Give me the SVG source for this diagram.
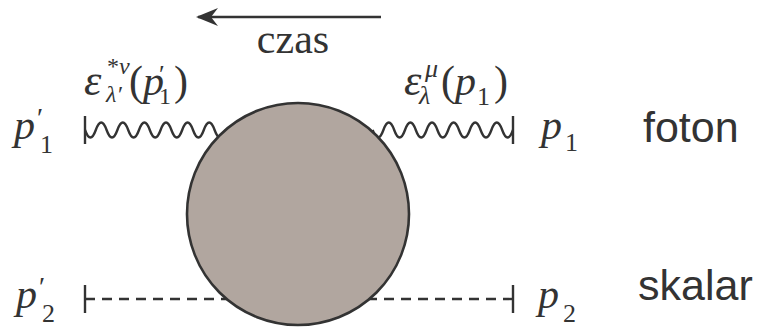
<svg xmlns="http://www.w3.org/2000/svg" width="762" height="327" viewBox="0 0 762 327">
<defs>
<style>
.ln{fill:none;stroke:#333;stroke-width:2.4}
.ser{fill:#333}
.it{font-style:italic}
.sans{font-family:"Liberation Sans",Arial,sans-serif;fill:#333;font-size:43px}
</style>
<marker id="ah" viewBox="0 0 22 18" refX="20" refY="9" markerWidth="22" markerHeight="18" markerUnits="userSpaceOnUse" orient="auto">
<path d="M22,9 L0,0 L7,9 L0,18 Z" fill="#333"/>
</marker>
</defs>
<rect width="762" height="327" fill="#fff"/>
<g id="connectors">
<path id="photon-out" class="ln" d="M85,130 q5.4,15 10.8,0 t10.8,0 t10.8,0 t10.8,0 t10.8,0 t10.8,0 t10.8,0 t10.8,0 t10.8,0 t10.8,0 t10.8,0 t10.8,0 t10.8,0"/>
<path id="photon-in" class="ln" d="M513,130 q-5.4,15 -10.8,0 t-10.8,0 t-10.8,0 t-10.8,0 t-10.8,0 t-10.8,0 t-10.8,0 t-10.8,0 t-10.8,0 t-10.8,0 t-10.8,0 t-10.8,0 t-10.8,0"/>
<line class="ln" x1="85" y1="116" x2="85" y2="144" stroke-width="2.6"/>
<line class="ln" x1="513" y1="116" x2="513" y2="144" stroke-width="2.6"/>
<line id="scalar-out" class="ln" x1="85" y1="299" x2="230" y2="299" stroke-dasharray="10,7" stroke-width="3"/>
<line id="scalar-in" class="ln" x1="513" y1="299" x2="360" y2="299" stroke-dasharray="10,7" stroke-width="3"/>
<line class="ln" x1="85" y1="285" x2="85" y2="313" stroke-width="2.6"/>
<line class="ln" x1="513" y1="285" x2="513" y2="313" stroke-width="2.6"/>
<line id="time-arrow" class="ln" x1="381" y1="17" x2="198" y2="17" marker-end="url(#ah)"/>
</g>
<g id="blob">
<circle cx="298" cy="214" r="111" fill="#b1a69f" stroke="#333" stroke-width="2.6"/>
</g>
<g font-family="Liberation Serif, Times New Roman, DejaVu Serif, serif">
<g id="label-czas">
<text class="ser" x="293" y="53" font-size="42" text-anchor="middle">czas</text>
</g>
<g id="label-eps-left" font-size="42">
<text class="ser it" x="84" y="95" font-size="44">ε</text>
<text class="ser" x="107" y="74" font-size="24">*<tspan class="it">ν</tspan></text>
<text class="ser it" x="106" y="102" font-size="24">λ′</text>
<text class="ser" x="129" y="95">(<tspan class="it">p</tspan></text>
<text class="ser" x="159" y="83" font-size="26">′</text>
<text class="ser" x="159" y="104" font-size="24">1</text>
<text class="ser" x="174" y="95">)</text>
</g>
<g id="label-eps-right" font-size="42">
<text class="ser it" x="404" y="95" font-size="44">ε</text>
<text class="ser it" x="425" y="77" font-size="26">μ</text>
<text class="ser it" x="419" y="104" font-size="26">λ</text>
<text class="ser" x="441" y="95">(<tspan class="it">p</tspan></text>
<text class="ser" x="477" y="105" font-size="26">1</text>
<text class="ser" x="494" y="95">)</text>
</g>
<g id="label-p1p">
<text class="ser it" x="14" y="139" font-size="42">p</text>
<text class="ser" x="37" y="127" font-size="28">′</text>
<text class="ser" x="40" y="153" font-size="26">1</text>
</g>
<g id="label-p1">
<text class="ser it" x="541" y="139" font-size="42">p</text>
<text class="ser" x="565" y="151" font-size="26">1</text>
</g>
<g id="label-p2p">
<text class="ser it" x="16" y="308" font-size="42">p</text>
<text class="ser" x="39" y="296" font-size="28">′</text>
<text class="ser" x="42" y="322" font-size="26">2</text>
</g>
<g id="label-p2">
<text class="ser it" x="538" y="308" font-size="42">p</text>
<text class="ser" x="563" y="322" font-size="26">2</text>
</g>
</g>
<g id="label-foton">
<text class="sans" x="643" y="142">foton</text>
</g>
<g id="label-skalar">
<text class="sans" x="638" y="300">skalar</text>
</g>
</svg>
